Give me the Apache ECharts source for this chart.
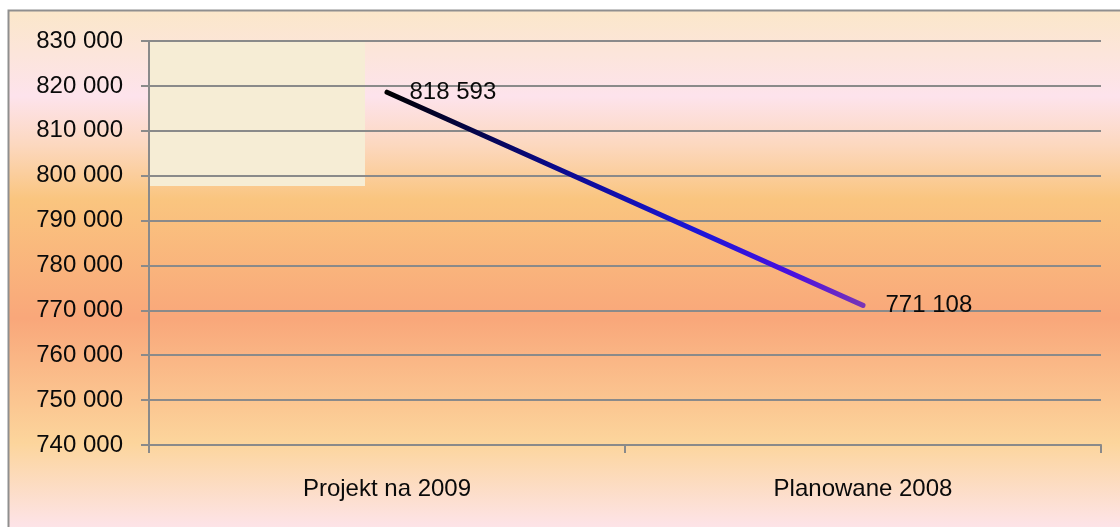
<!DOCTYPE html>
<html>
<head>
<meta charset="utf-8">
<script src="https://cdn.jsdelivr.net/npm/echarts@6/dist/echarts.min.js"></script>
<style>
  html, body { margin: 0; padding: 0; background: #fff; }
  #chart { width: 1120px; height: 527px; }
</style>
</head>
<body>
<div id="chart"></div>
<script>
const categories = ['Projekt na 2009', 'Planowane 2008']
const values = [818593, 771108]
const yMin = 740000
const yMax = 830000
const yStep = 10000

// spacja jako separator tysięcy
const fmt = v => String(v).replace(/\B(?=(\d{3})+(?!\d))/g, ' ')

const FONT = 'Liberation Sans'
const AXIS_GRAY = '#8a8a8a'

const chart = echarts.init(document.getElementById('chart'))

const option = {
  backgroundColor: '#ffffff',
  animation: false,
  graphic: [
    {
      type: 'rect',
      z: -10,
      shape: { x: 8.5, y: 10.5, width: 1130, height: 540 },
      style: {
        fill: new echarts.graphic.LinearGradient(0, 0, 0, 1, [
          { offset: 0, color: '#fbe7c9' },
          { offset: 0.16, color: '#fde3ec' },
          { offset: 0.25, color: '#fcd8bf' },
          { offset: 0.35, color: '#fac57f' },
          { offset: 0.57, color: '#f9a77a' },
          { offset: 0.80, color: '#fcd59c' },
          { offset: 0.95, color: '#fde3e6' },
          { offset: 1, color: '#fde6ee' }
        ]),
        stroke: '#8f8f8f',
        lineWidth: 2
      }
    },
    {
      // pusty prostokąt legendy
      type: 'rect',
      z: -9,
      shape: { x: 150, y: 41, width: 215, height: 145 },
      style: { fill: '#f6edd5' }
    }
  ],
  grid: { left: 149, right: 19, top: 41, bottom: 82, containLabel: false },
  xAxis: {
    type: 'category',
    data: categories,
    boundaryGap: true,
    axisLine: { show: true, lineStyle: { color: AXIS_GRAY, width: 2 } },
    axisTick: { show: true, length: 8, lineStyle: { color: AXIS_GRAY, width: 2 } },
    axisLabel: { color: '#0a0a0a', fontFamily: FONT, fontSize: 24, margin: 32 },
    splitLine: { show: false }
  },
  yAxis: {
    type: 'value',
    min: yMin,
    max: yMax,
    interval: yStep,
    axisLine: { show: true, lineStyle: { color: AXIS_GRAY, width: 2 } },
    axisTick: { show: true, length: 8, lineStyle: { color: AXIS_GRAY, width: 2 } },
    axisLabel: { color: '#0a0a0a', fontFamily: FONT, fontSize: 24, margin: 26, formatter: fmt },
    splitLine: { show: true, lineStyle: { color: AXIS_GRAY, width: 2 } }
  },
  series: [
    {
      type: 'line',
      data: values,
      symbol: 'circle',
      symbolSize: 1,
      itemStyle: { color: 'rgba(0,0,0,0)' },
      lineStyle: {
        width: 5,
        cap: 'round',
        color: new echarts.graphic.LinearGradient(0, 0, 1, 0, [
          { offset: 0, color: '#000000' },
          { offset: 0.35, color: '#0a0a8a' },
          { offset: 0.65, color: '#1c16d8' },
          { offset: 0.85, color: '#4a10e0' },
          { offset: 1, color: '#7a35b5' }
        ])
      },
      label: {
        show: true,
        position: 'right',
        distance: 22,
        color: '#0a0a0a',
        fontFamily: FONT,
        fontSize: 24,
        formatter: p => fmt(p.value)
      }
    }
  ]
}

chart.setOption(option)
</script>
</body>
</html>
